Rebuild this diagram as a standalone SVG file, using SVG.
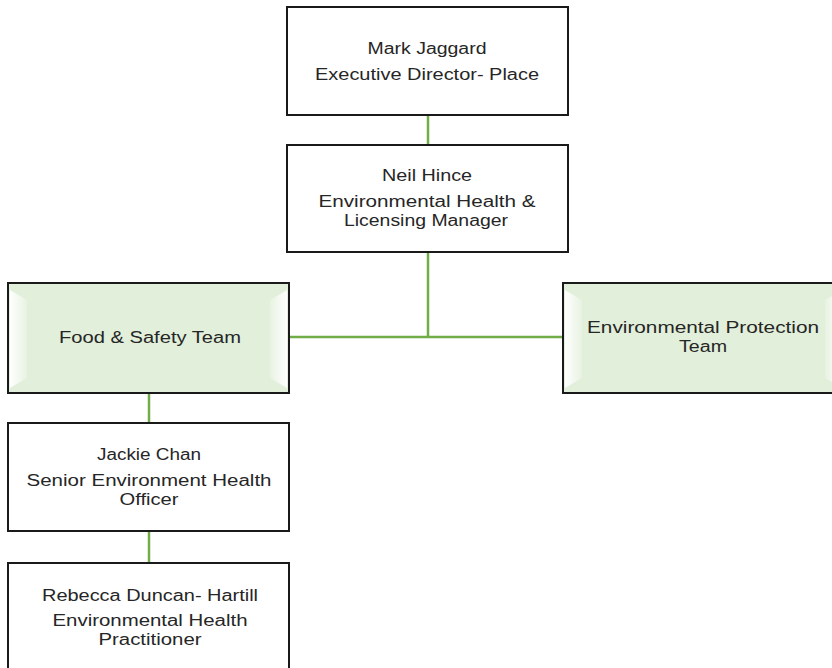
<svg xmlns="http://www.w3.org/2000/svg" width="832" height="668" viewBox="0 0 832 668">
<defs>
<style>
.box{fill:#ffffff;stroke:#1a1a1a;stroke-width:2}
.team{fill:#e2efda;stroke:#1a1a1a;stroke-width:2}
.conn{stroke:#70ad47;stroke-width:2.5;fill:none}
text{font-family:"Liberation Sans",Arial,sans-serif;font-size:16px;fill:#262626;text-anchor:middle}
</style>
<linearGradient id="gl" x1="0" y1="0" x2="1" y2="0"><stop offset="0" stop-color="#ffffff" stop-opacity="1"/><stop offset="1" stop-color="#ffffff" stop-opacity="0.2"/></linearGradient>
<linearGradient id="gr" x1="1" y1="0" x2="0" y2="0"><stop offset="0" stop-color="#ffffff" stop-opacity="1"/><stop offset="1" stop-color="#ffffff" stop-opacity="0.2"/></linearGradient>
</defs>
<g id="connectors">
<line class="conn" x1="428" y1="115" x2="428" y2="145"/>
<line class="conn" x1="428" y1="252" x2="428" y2="337"/>
<line class="conn" x1="289" y1="337" x2="563" y2="337"/>
<line class="conn" x1="149" y1="393" x2="149" y2="423"/>
<line class="conn" x1="149" y1="531" x2="149" y2="563"/>
</g>
<g id="mark">
<rect class="box" x="287" y="7" width="281" height="108"/>
<text x="427" y="54" textLength="119" lengthAdjust="spacingAndGlyphs">Mark Jaggard</text>
<text x="427" y="80" textLength="224" lengthAdjust="spacingAndGlyphs">Executive Director- Place</text>
</g>
<g id="neil">
<rect class="box" x="287" y="145" width="281" height="107"/>
<text x="427" y="181" textLength="90" lengthAdjust="spacingAndGlyphs">Neil Hince</text>
<text x="427" y="207" textLength="217" lengthAdjust="spacingAndGlyphs">Environmental Health &amp;</text>
<text x="426" y="226" textLength="164" lengthAdjust="spacingAndGlyphs">Licensing Manager</text>
</g>
<g id="food">
<rect class="team" x="8" y="283" width="281" height="110"/>
<polygon fill="url(#gl)" points="10,290 27,300 27,378 10,388"/>
<polygon fill="url(#gr)" points="287,290 270,300 270,378 287,388"/>
<text x="150" y="343" textLength="182" lengthAdjust="spacingAndGlyphs">Food &amp; Safety Team</text>
</g>
<g id="envprot">
<rect class="team" x="563" y="283" width="281" height="110"/>
<polygon fill="url(#gl)" points="565,290 582,300 582,378 565,388"/>
<polygon fill="url(#gr)" points="842,290 825,300 825,378 842,388"/>
<text x="703" y="333" textLength="232" lengthAdjust="spacingAndGlyphs">Environmental Protection</text>
<text x="703" y="352" textLength="48" lengthAdjust="spacingAndGlyphs">Team</text>
</g>
<g id="jackie">
<rect class="box" x="8" y="423" width="281" height="108"/>
<text x="149" y="460" textLength="104" lengthAdjust="spacingAndGlyphs">Jackie Chan</text>
<text x="149" y="486" textLength="245" lengthAdjust="spacingAndGlyphs">Senior Environment Health</text>
<text x="149" y="505" textLength="59" lengthAdjust="spacingAndGlyphs">Officer</text>
</g>
<g id="rebecca">
<rect class="box" x="8" y="563" width="281" height="115"/>
<text x="150" y="601" textLength="216" lengthAdjust="spacingAndGlyphs">Rebecca Duncan- Hartill</text>
<text x="150" y="626" textLength="195" lengthAdjust="spacingAndGlyphs">Environmental Health</text>
<text x="150" y="645" textLength="103" lengthAdjust="spacingAndGlyphs">Practitioner</text>
</g>
</svg>
